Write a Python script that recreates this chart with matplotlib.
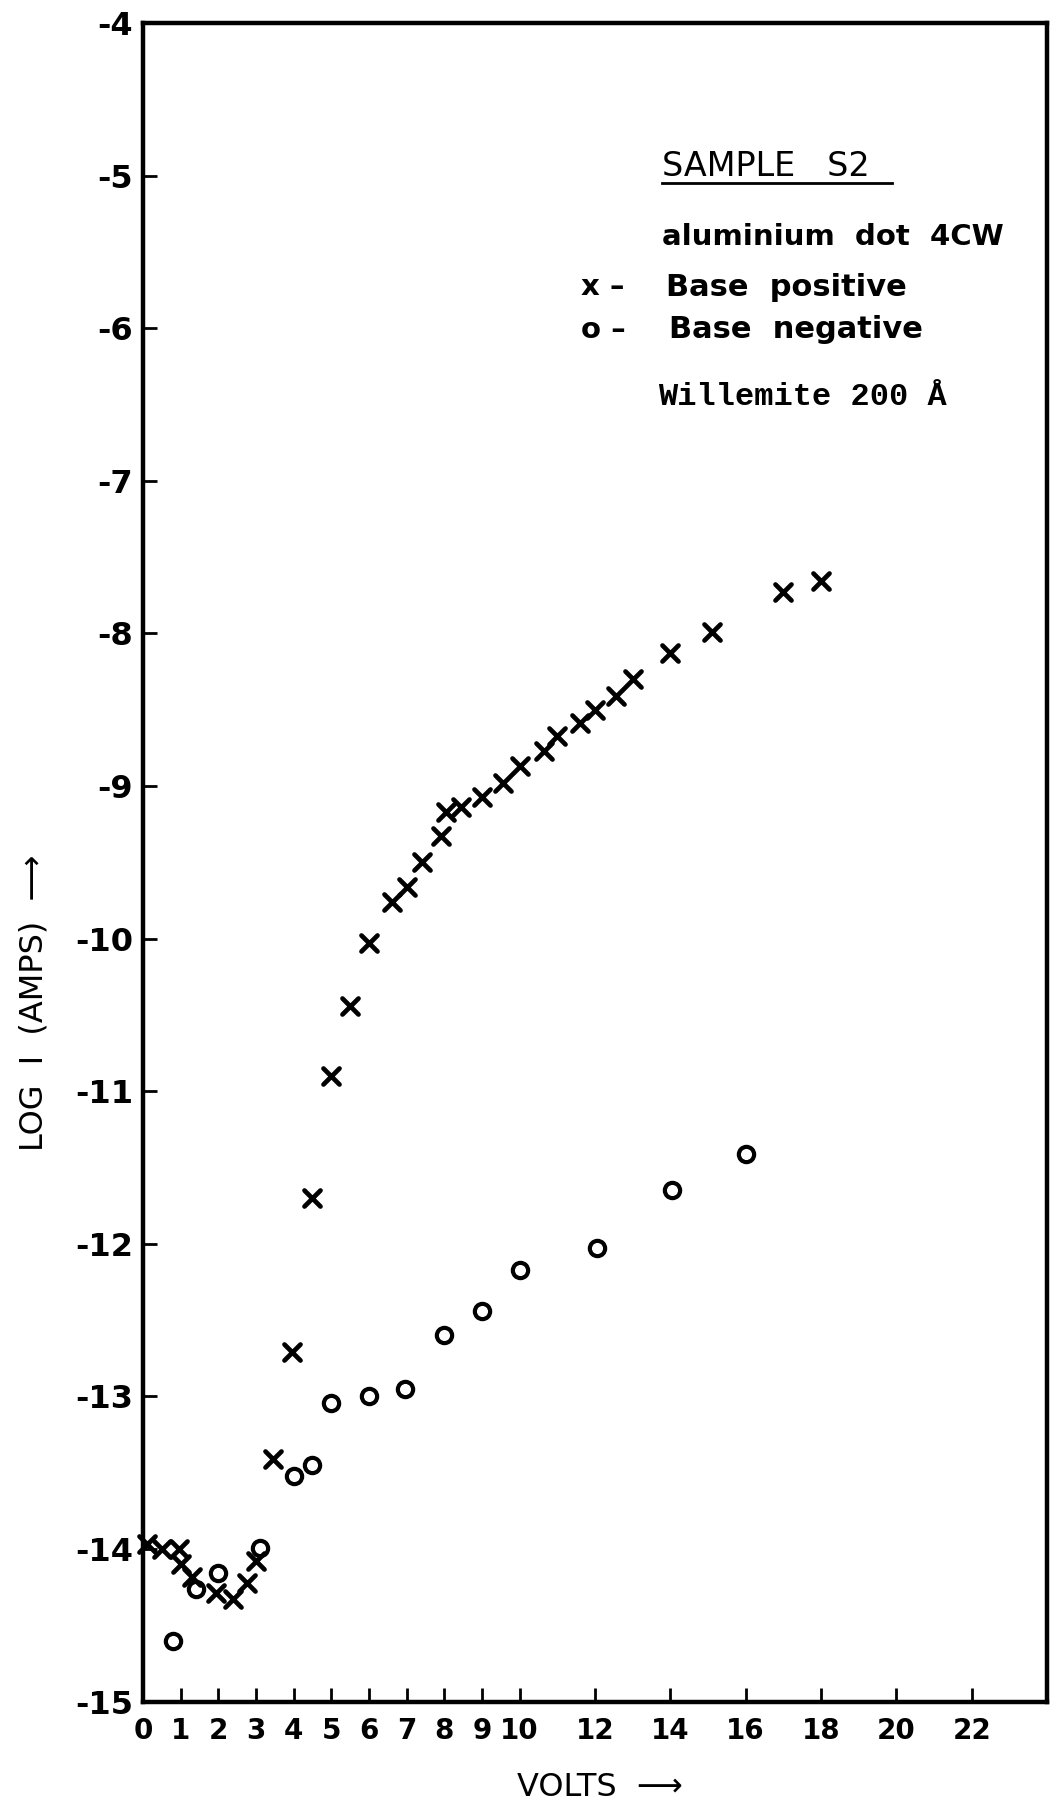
import matplotlib
matplotlib.use("Agg")
import matplotlib.pyplot as plt
from matplotlib.markers import MarkerStyle

# base positive (x markers)
pos_volts = [0.1, 0.5, 0.95, 1.0, 1.3, 1.95, 2.4, 2.75, 3.0, 3.45, 3.95, 4.5, 5.0, 5.5,
             6.0, 6.6, 7.0, 7.4, 7.9, 8.05, 8.45, 9.0, 9.55, 10.0, 10.65, 11.0, 11.6,
             12.0, 12.55, 13.0, 14.0, 15.1, 17.0, 18.0]
pos_logi = [-13.97, -14.0, -14.0, -14.1, -14.18, -14.29, -14.33, -14.22, -14.08, -13.41,
            -12.71, -11.70, -10.90, -10.44, -10.03, -9.76, -9.66, -9.50, -9.33, -9.17,
            -9.14, -9.07, -8.98, -8.87, -8.77, -8.67, -8.59, -8.50, -8.41, -8.30,
            -8.13, -7.99, -7.73, -7.66]

# base negative (o markers)
neg_volts = [0.8, 1.4, 2.0, 3.1, 4.0, 4.5, 5.0, 6.0, 6.95, 8.0, 9.0, 10.0, 12.05, 14.05, 16.0]
neg_logi = [-14.60, -14.26, -14.16, -13.99, -13.52, -13.45, -13.04, -13.00, -12.95,
            -12.60, -12.44, -12.17, -12.03, -11.65, -11.41]

xticks = [0, 1, 2, 3, 4, 5, 6, 7, 8, 9, 10, 12, 14, 16, 18, 20, 22]
yticks = list(range(-15, -3))

fig = plt.figure(figsize=[10.51, 18.07], dpi=100)
ax = fig.add_axes([0.136, 0.0583, 0.8602, 0.929])

ax.plot(pos_volts, pos_logi, linestyle="none", marker=MarkerStyle("x", capstyle="round"),
        ms=12, mew=3.4, color="black", clip_on=False, zorder=3)
ax.plot(neg_volts, neg_logi, linestyle="none", marker="o", ms=11, mew=3.0,
        mfc="none", mec="black", clip_on=False, zorder=3)

ax.set_xlim(0, 24)
ax.set_ylim(-15, -4)
ax.set_xticks(xticks)
ax.set_xticklabels([str(t) for t in xticks])
ax.set_yticks(yticks)
ax.set_yticklabels([str(t) for t in yticks])

for s in ax.spines.values():
    s.set_linewidth(3.2)
ax.tick_params(direction="in", length=10, width=2, colors="black")
ax.tick_params(axis="x", pad=11, labelsize=20)
ax.tick_params(axis="y", pad=7, labelsize=23)
for lab in ax.get_xticklabels() + ax.get_yticklabels():
    lab.set_fontweight("bold")

ax.set_xlabel("VOLTS  \u27f6", fontsize=23)
ax.xaxis.label.set_verticalalignment("center")
ax.xaxis.set_label_coords(0.505, -0.051)
ax.set_ylabel("LOG  I  (AMPS)  \u27f6", fontsize=23)
ax.yaxis.label.set_verticalalignment("center")
ax.yaxis.set_label_coords(-0.12, 0.416)

# annotation block
ax.text(0.574, 0.9142, "SAMPLE   S2", transform=ax.transAxes, fontsize=24,
        ha="left", va="center")
ax.plot([0.574, 0.829], [0.9045, 0.9045], transform=ax.transAxes, color="black",
        lw=2, clip_on=False)
ax.text(0.574, 0.8726, "aluminium  dot  4CW", transform=ax.transAxes, fontsize=21,
        ha="left", va="center", fontweight="bold")
ax.text(0.484, 0.8427, "x \u2013", transform=ax.transAxes, fontsize=21,
        ha="left", va="center", fontweight="bold")
ax.text(0.579, 0.8427, "Base  positive", transform=ax.transAxes, fontsize=22,
        ha="left", va="center", fontweight="bold")
ax.text(0.484, 0.8171, "o \u2013", transform=ax.transAxes, fontsize=21,
        ha="left", va="center", fontweight="bold")
ax.text(0.582, 0.8171, "Base  negative", transform=ax.transAxes, fontsize=22,
        ha="left", va="center", fontweight="bold")
ax.text(0.5697, 0.777, "Willemite 200 \u00c5", transform=ax.transAxes, fontsize=23,
        ha="left", va="center", family="Liberation Mono", fontweight="bold")

fig.savefig("out.png", dpi=100)
